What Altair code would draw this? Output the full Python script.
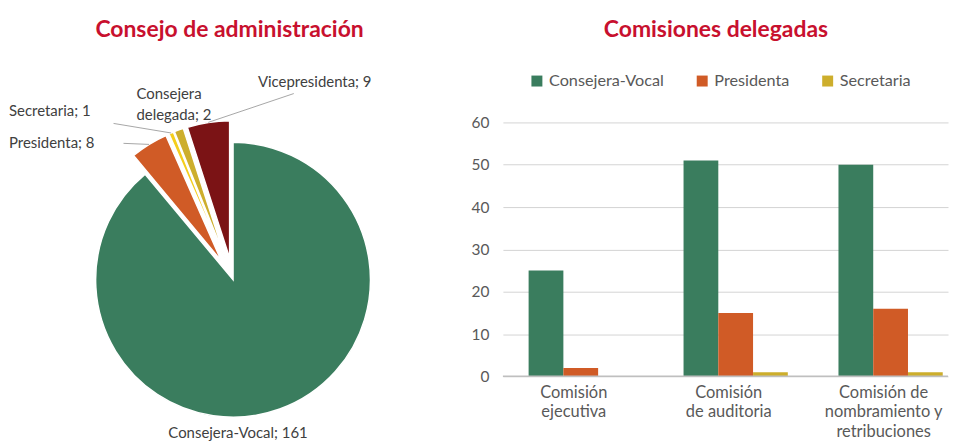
import altair as alt
import pandas as pd

# ---------------- data ----------------
pie_categories = ["Consejera-Vocal", "Presidenta", "Secretaria", "Consejera delegada", "Vicepresidenta"]
pie_values = [161, 8, 1, 2, 9]

bar_categories = ["Comisión\nejecutiva", "Comisión\nde auditoria", "Comisión de\nnombramiento y\nretribuciones"]
bar_series = ["Consejera-Vocal", "Presidenta", "Secretaria"]
consejera_vocal = [25, 51, 50]
presidenta = [2, 15, 16]
secretaria = [0, 1, 1]
y_ticks = [0, 10, 20, 30, 40, 50, 60]

title_left = "Consejo de administración"
title_right = "Comisiones delegadas"

# ---------------- style / layout ----------------
FONT = "Lato"
TITLE_COLOR = "#C8102E"
TEXT_COLOR = "#595959"
pie_colors = ["#3A7D5E", "#D05B26", "#F4CE1C", "#CDAE2C", "#7B1315"]
bar_colors = ["#3A7D5E", "#D05B26", "#CDAE2C"]
pie_explode = [0, 22, 22, 22, 22]
pie_label_names = ["Consejera-Vocal", "Presidenta", "Secretaria", "Consejera\ndelegada", "Vicepresidenta"]
# panel coordinates (origin = top-left of the bar plot row)
label_x = [160, 0, 0, 128, 250]
label_y = [312, 21, -11, -28.5, -41]
leader_x = [None, 115, 105, None, 286]
leader_y = [None, 21, 1, None, -29]
CX, CY, R = 225, 158, 138
LEFT_W = 462
PLOT_W, PLOT_H = 447, 255

pie_df = pd.DataFrame({
    "order": list(range(len(pie_categories))),
    "category": pie_categories,
    "value": pie_values,
    "name": pie_label_names,
    "color": pie_colors,
    "explode": pie_explode,
    "tx": label_x,
    "ty": label_y,
    "lx": leader_x,
    "ly": leader_y,
})

base = (
    alt.Chart(pie_df)
    .transform_joinaggregate(total="sum(value)")
    .transform_window(cum="sum(value)", sort=[alt.SortField("order")])
    .transform_calculate(t1="2*PI*datum.cum/datum.total")
    .transform_calculate(t0="2*PI*(datum.cum-datum.value)/datum.total")
    .transform_calculate(mid="(datum.t0+datum.t1)/2")
    .transform_calculate(px=f"{CX}+datum.explode*sin(datum.mid)")
    .transform_calculate(py=f"{CY}-datum.explode*cos(datum.mid)")
    .transform_calculate(ex=f"{CX}+({R}+datum.explode)*sin(datum.mid)")
    .transform_calculate(ey=f"{CY}-({R}+datum.explode)*cos(datum.mid)")
    .transform_calculate(label="datum.name + '; ' + datum.value")
)

arcs = base.mark_arc(outerRadius=R, stroke="white", strokeWidth=1.5).encode(
    x=alt.X("px:Q", scale=None, axis=None),
    y=alt.Y("py:Q", scale=None, axis=None),
    theta=alt.Theta("t0:Q", scale=None, stack=None),
    theta2="t1:Q",
    color=alt.Color("color:N", scale=None),
)

leaders = base.transform_filter("isValid(datum.lx)").mark_rule(color="#a6a6a6", strokeWidth=1).encode(
    x=alt.X("lx:Q", scale=None, axis=None),
    y=alt.Y("ly:Q", scale=None, axis=None),
    x2="ex:Q",
    y2="ey:Q",
)

pie_labels = base.mark_text(
    align="left", baseline="middle", fontSize=15, font=FONT, color="#404040", lineBreak="\n", lineHeight=21
).encode(
    x=alt.X("tx:Q", scale=None, axis=None),
    y=alt.Y("ty:Q", scale=None, axis=None),
    text="label:N",
)

left_title = alt.Chart(pd.DataFrame({"t": [title_left]})).mark_text(
    align="center", baseline="top", fontSize=23, fontWeight="bold", font=FONT, color=TITLE_COLOR
).encode(x=alt.value(221.5), y=alt.value(-104), text="t:N")

left = alt.layer(left_title, arcs, leaders, pie_labels).properties(width=LEFT_W, height=PLOT_H)

# ---------------- bar chart ----------------
rows = []
for i, cat in enumerate(bar_categories):
    for s, vals in zip(bar_series, [consejera_vocal, presidenta, secretaria]):
        rows.append({"cat": cat, "series": s, "value": vals[i]})
bar_df = pd.DataFrame(rows)

bars = alt.Chart(bar_df).mark_bar().encode(
    x=alt.X(
        "cat:N",
        sort=bar_categories,
        scale=alt.Scale(paddingInner=0.327, paddingOuter=0.1, align=0.83),
        axis=alt.Axis(
            title=None, labelAngle=0, domain=False, ticks=False,
            labelExpr="split(datum.label, '\\n')",
            labelFontSize=16.5, labelFont=FONT, labelColor=TEXT_COLOR,
            labelPadding=8, labelLineHeight=19.5, labelOffset=-7, labelLimit=300,
        ),
    ),
    xOffset=alt.XOffset("series:N", sort=bar_series, scale=alt.Scale(paddingInner=0, paddingOuter=0)),
    y=alt.Y(
        "value:Q",
        scale=alt.Scale(domain=[0, 60]),
        axis=alt.Axis(
            values=y_ticks, title=None, domain=False, ticks=False, grid=True,
            gridColor="#d4d4d4", labelFontSize=15.5, labelFont=FONT, labelColor=TEXT_COLOR,
            labelPadding=14,
        ),
    ),
    color=alt.Color(
        "series:N",
        sort=bar_series,
        scale=alt.Scale(domain=bar_series, range=bar_colors),
        legend=alt.Legend(
            orient="none", legendX=26, legendY=-50, direction="horizontal", title=None,
            symbolType="square", symbolSize=121, symbolStrokeWidth=0,
            labelFontSize=16.3, labelFont=FONT, labelColor=TEXT_COLOR,
            columnPadding=30, labelOffset=4, padding=0,
        ),
    ),
)

zero_rule = alt.Chart(pd.DataFrame({"z": [0]})).mark_rule(color="#bfbfbf", strokeWidth=1.5).encode(
    y=alt.Y("z:Q")
)

right_title = alt.Chart(pd.DataFrame({"t": [title_right]})).mark_text(
    align="center", baseline="top", fontSize=23, fontWeight="bold", font=FONT, color=TITLE_COLOR
).encode(x=alt.value(214), y=alt.value(-104), text="t:N")

right = alt.layer(right_title, bars, zero_rule).properties(width=PLOT_W, height=PLOT_H)

chart = (
    alt.hconcat(left, right, spacing=0)
    .resolve_scale(color="independent")
    .resolve_legend(color="independent")
    .properties(padding={"left": 0, "top": 9, "right": 0, "bottom": 0})
    .configure_view(stroke="transparent")
    .configure_axis(labelFont=FONT)
)

chart.save("out.html", embed_options={"renderer": "svg", "actions": False})
